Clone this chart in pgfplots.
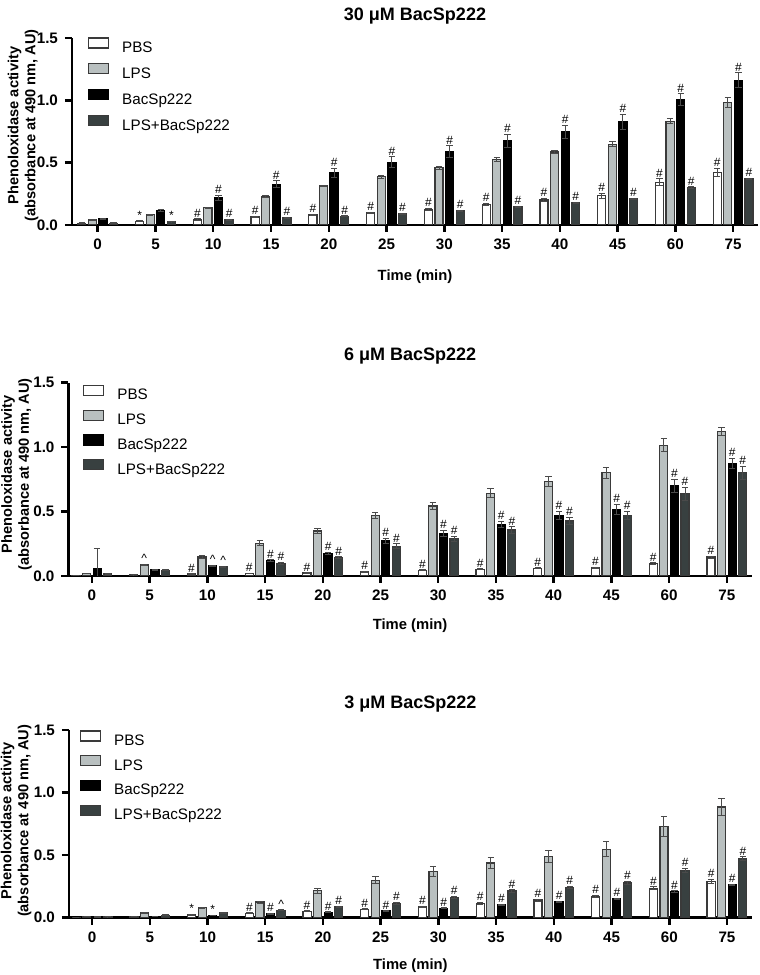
\documentclass[border=0pt]{standalone}
\usepackage{fontspec}
\setmainfont{Liberation Sans}
\usepackage{pgfplots}
\usepackage{pgfplotstable}
\pgfplotsset{compat=1.18}
\definecolor{lpsc}{HTML}{B9C0C0}
\definecolor{lbc}{HTML}{384040}
\definecolor{edgec}{HTML}{3A3A3A}
\definecolor{errc}{HTML}{4A4A4A}

% columns: x (category index), y (mean), e (error), l (label: 0 none, 1 #, 2 *, 3 ^)
\pgfplotstableread{
x y e l
0 0.015 0.003 0
1 0.030 0.004 2
2 0.045 0.005 1
3 0.064 0.004 1
4 0.080 0.005 1
5 0.096 0.006 1
6 0.125 0.008 1
7 0.163 0.010 1
8 0.200 0.015 1
9 0.234 0.018 1
10 0.341 0.028 1
11 0.421 0.035 1
}\aPBS
\pgfplotstableread{
x y e l
0 0.040 0.004 0
1 0.083 0.005 0
2 0.139 0.004 0
3 0.230 0.006 0
4 0.312 0.007 0
5 0.386 0.010 0
6 0.461 0.012 0
7 0.525 0.014 0
8 0.586 0.015 0
9 0.647 0.020 0
10 0.831 0.020 0
11 0.980 0.040 0
}\aLPS
\pgfplotstableread{
x y e l
0 0.048 0.005 0
1 0.115 0.008 0
2 0.220 0.020 1
3 0.328 0.025 1
4 0.418 0.035 1
5 0.503 0.045 1
6 0.589 0.045 1
7 0.674 0.055 1
8 0.746 0.055 1
9 0.829 0.060 1
10 1.007 0.045 1
11 1.162 0.060 1
}\aBAC
\pgfplotstableread{
x y e l
0 0.013 0.003 0
1 0.028 0.003 2
2 0.040 0.005 1
3 0.056 0.005 1
4 0.070 0.005 1
5 0.090 0.004 1
6 0.112 0.005 1
7 0.144 0.005 1
8 0.176 0.005 1
9 0.208 0.005 1
10 0.301 0.006 1
11 0.370 0.006 1
}\aLB

\pgfplotstableread{
x y e l
0 0.005 0.002 0
1 0.010 0.002 0
2 0.015 0.003 1
3 0.020 0.003 1
4 0.023 0.003 1
5 0.034 0.004 1
6 0.044 0.004 1
7 0.052 0.004 1
8 0.060 0.004 1
9 0.065 0.004 1
10 0.098 0.005 1
11 0.147 0.008 1
}\bPBS
\pgfplotstableread{
x y e l
0 0.020 0.003 0
1 0.085 0.006 3
2 0.147 0.015 0
3 0.253 0.020 0
4 0.349 0.020 0
5 0.468 0.025 0
6 0.543 0.030 0
7 0.641 0.035 0
8 0.734 0.040 0
9 0.800 0.040 0
10 1.014 0.050 0
11 1.122 0.030 0
}\bLPS
\pgfplotstableread{
x y e l
0 0.060 0.150 0
1 0.047 0.004 0
2 0.078 0.005 3
3 0.119 0.008 1
4 0.176 0.010 1
5 0.272 0.020 1
6 0.328 0.025 1
7 0.398 0.025 1
8 0.470 0.030 1
9 0.517 0.040 1
10 0.698 0.050 1
11 0.871 0.040 1
}\bBAC
\pgfplotstableread{
x y e l
0 0.015 0.003 0
1 0.044 0.003 0
2 0.072 0.004 3
3 0.100 0.008 1
4 0.140 0.008 1
5 0.230 0.020 1
6 0.290 0.020 1
7 0.357 0.025 1
8 0.427 0.030 1
9 0.470 0.030 1
10 0.639 0.050 1
11 0.800 0.050 1
}\bLB

\pgfplotstableread{
x y e l
0 0.003 0.002 0
1 0.010 0.002 0
2 0.024 0.003 2
3 0.035 0.003 1
4 0.050 0.004 1
5 0.067 0.005 1
6 0.085 0.006 1
7 0.115 0.007 1
8 0.141 0.008 1
9 0.168 0.010 1
10 0.234 0.012 1
11 0.290 0.015 1
}\cPBS
\pgfplotstableread{
x y e l
0 0.010 0.002 0
1 0.040 0.004 0
2 0.080 0.005 0
3 0.125 0.008 0
4 0.216 0.020 0
5 0.300 0.030 0
6 0.370 0.040 0
7 0.437 0.045 0
8 0.488 0.050 0
9 0.546 0.060 0
10 0.730 0.080 0
11 0.885 0.070 0
}\cLPS
\pgfplotstableread{
x y e l
0 0.005 0.002 0
1 0.010 0.002 0
2 0.019 0.002 2
3 0.030 0.003 1
4 0.043 0.003 1
5 0.053 0.003 1
6 0.075 0.004 1
7 0.101 0.004 1
8 0.125 0.004 1
9 0.152 0.005 1
10 0.208 0.006 1
11 0.261 0.006 1
}\cBAC
\pgfplotstableread{
x y e l
0 0.008 0.002 0
1 0.019 0.003 0
2 0.040 0.003 0
3 0.059 0.004 3
4 0.085 0.005 1
5 0.115 0.006 1
6 0.163 0.008 1
7 0.213 0.010 1
8 0.243 0.010 1
9 0.277 0.012 1
10 0.378 0.015 1
11 0.472 0.015 1
}\cLB

\pgfplotsset{
  mylegend/.style={legend image code/.code={\draw[##1] (0pt,0.2pt) rectangle (10pt,5.2pt);}},
  lblstyle/.style={draw=none, fill=none, forget plot,
    every node near coord/.append style={font=\fontsize{6}{6}\selectfont, inner sep=0.6pt, anchor=south, black}},
  panel/.style={
    scale only axis, ybar, ymin=0, ymax=1.5, xmax=11.43,
    axis lines*=left, axis line style={line width=1.25pt,-},
    tick align=outside, major tick length=3.5pt,
    tick style={line width=1.25pt, black},
    xtick={0,1,2,3,4,5,6,7,8,9,10,11},
    xticklabels={0,5,10,15,20,25,30,35,40,45,60,75},
    ytick={0,0.5,1,1.5},
    yticklabel style={/pgf/number format/.cd,fixed,fixed zerofill,precision=1},
    /pgf/number format/assume math mode=true,
    ticklabel style={font=\fontsize{7.6}{9}\selectfont\bfseries},
    bar width=0.14,
    xlabel={Time (min)},
    ylabel={Phenoloxidase activity\\(absorbance at 490 nm, AU)},
    ylabel style={align=center, font=\fontsize{7.3}{8.5}\selectfont\bfseries, anchor=center},
    xlabel style={font=\fontsize{7.4}{9}\selectfont\bfseries, anchor=center},
    title style={font=\fontsize{9}{11}\selectfont\bfseries, anchor=center},
    legend style={draw=none, fill=none, font=\fontsize{7.6}{9}\selectfont,
      inner sep=0pt, outer sep=0pt, column sep=6.5pt,
      nodes={inner sep=0pt, text height=5.5pt, text depth=1.5pt},
      anchor=north west},
    legend cell align=left,
  },
}

\newcommand{\series}[3]{%
  \addplot[bar shift=#2, #3, line width=0.6pt, mylegend,
    error bars/.cd, y dir=both, y explicit,
    error bar style={line width=0.5pt, draw=errc},
    error mark options={rotate=90, mark size=1.6pt, line width=0.5pt, draw=errc}]
    table[x=x, y=y, y error=e]{#1};
  \addplot[bar shift=#2, lblstyle, restrict expr to domain={\thisrow{l}}{0.5:1.5},
    nodes near coords={\#}] table[x=x, y expr=\thisrow{y}+\thisrow{e}]{#1};
  \addplot[bar shift=#2, lblstyle, restrict expr to domain={\thisrow{l}}{1.5:2.5},
    nodes near coords={*}] table[x=x, y expr=\thisrow{y}+\thisrow{e}]{#1};
  \addplot[bar shift=#2, lblstyle, restrict expr to domain={\thisrow{l}}{2.5:3.5},
    nodes near coords={\textasciicircum}] table[x=x, y expr=\thisrow{y}+\thisrow{e}]{#1};
}

\newcommand{\fourseries}[4]{%
  \series{#1}{-0.275}{fill=white, draw=edgec}
  \series{#2}{-0.092}{fill=lpsc, draw=edgec}
  \series{#3}{0.092}{fill=black, draw=black}
  \series{#4}{0.275}{fill=lbc, draw=edgec}
  \legend{PBS,LPS,BacSp222,LPS+BacSp222}
}

\begin{document}
\begin{tikzpicture}
\useasboundingbox (0,0) rectangle (380pt,487.5pt);

\begin{axis}[panel, at={(36pt,375pt)}, anchor=south west,
  width=343pt, height=93.5pt, xmin=-0.445,
  title={30 μM BacSp222},
  title style={at={([yshift=5pt]axis description cs:0.5,1)}},
  xlabel style={at={([yshift=-26pt]axis description cs:0.5,0)}},
  ylabel style={at={([xshift=-24.5pt,yshift=3pt]axis description cs:0,0.5)}},
  legend style={at={([xshift=8pt,yshift=0.3pt]axis description cs:0,1)}, row sep=3.95pt},
]
\fourseries{\aPBS}{\aLPS}{\aBAC}{\aLB}
\end{axis}

\begin{axis}[panel, at={(34.25pt,199.5pt)}, anchor=south west,
  width=341.6pt, height=96.7pt, xmin=-0.405,
  title={6 μM BacSp222},
  title style={at={([yshift=7.5pt]axis description cs:0.5,1)}},
  xlabel style={at={([yshift=-25pt]axis description cs:0.5,0)}},
  ylabel style={at={([xshift=-26pt,yshift=2.5pt]axis description cs:0,0.5)}},
  legend style={at={([xshift=7.35pt,yshift=-1.1pt]axis description cs:0,1)}, row sep=3.4pt},
]
\fourseries{\bPBS}{\bLPS}{\bBAC}{\bLB}
\end{axis}

\begin{axis}[panel, at={(34.5pt,28.65pt)}, anchor=south west,
  width=341.4pt, height=93.85pt, xmin=-0.40,
  title={3 μM BacSp222},
  title style={at={([yshift=7pt]axis description cs:0.5,1)}},
  xlabel style={at={([yshift=-24pt]axis description cs:0.5,0)}},
  ylabel style={at={([xshift=-26.5pt,yshift=1.5pt]axis description cs:0,0.5)}},
  legend style={at={([xshift=5.5pt,yshift=-0.2pt]axis description cs:0,1)}, row sep=3.4pt},
]
\fourseries{\cPBS}{\cLPS}{\cBAC}{\cLB}
\end{axis}
\end{tikzpicture}
\end{document}
